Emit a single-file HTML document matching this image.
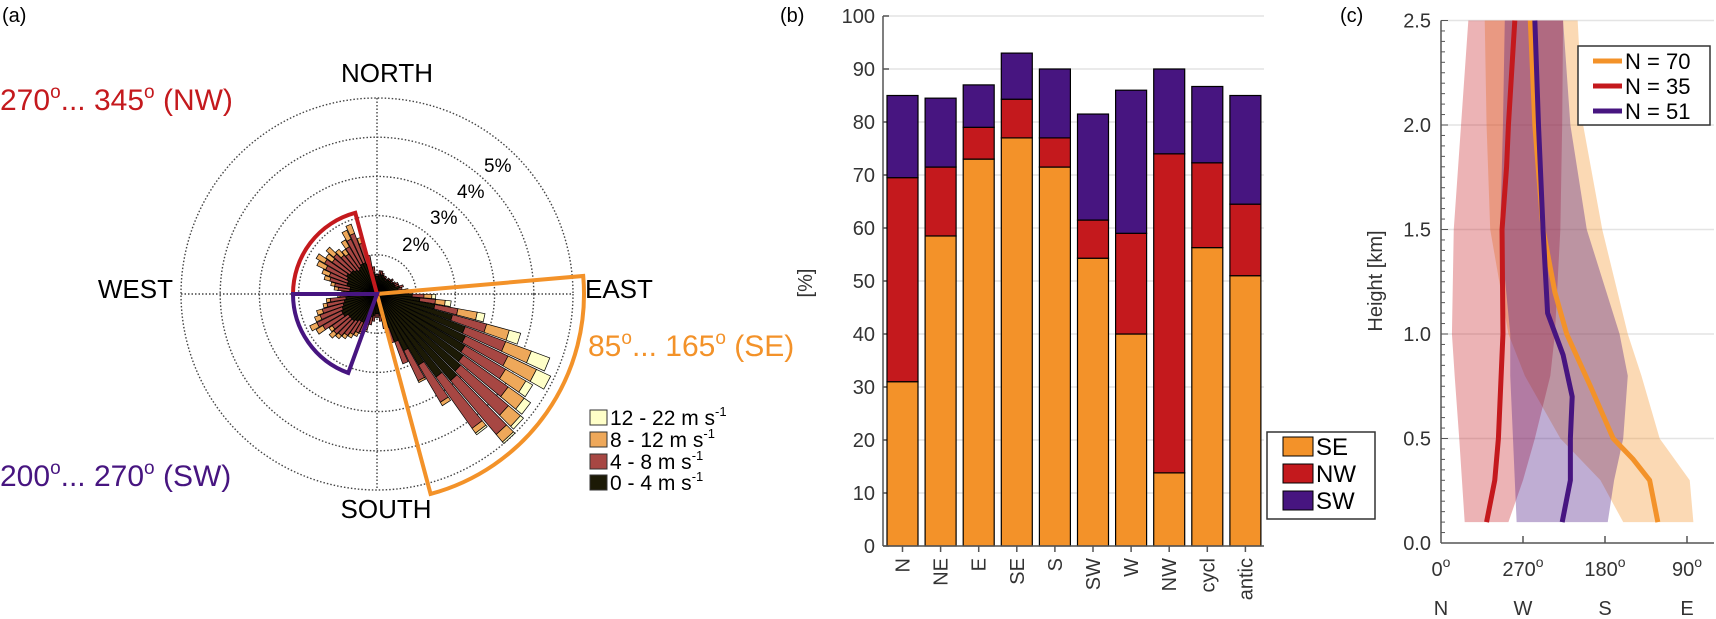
<!DOCTYPE html>
<html><head><meta charset="utf-8">
<style>
html,body{margin:0;padding:0;background:#fff;}
svg{display:block;font-family:"Liberation Sans",sans-serif;}
</style></head>
<body>
<svg id="fig" width="1716" height="619" viewBox="0 0 1716 619" xmlns="http://www.w3.org/2000/svg">
<g id="pa"></g>
<g id="pb"></g>
<g id="pc"></g>
</svg>
<script>
// ---------- Panel (a) data: 5-degree bins, percent per speed class ----------
const roseBins = [0,5,10,15,20,25,30,35,40,45,50,55,60,65,70,75,80,85,90,95,100,105,110,115,120,125,130,135,140,145,150,155,160,165,170,175,180,185,190,195,200,205,210,215,220,225,230,235,240,245,250,255,260,265,270,275,280,285,290,295,300,305,310,315,320,325,330,335,340,345,350,355];
const speed0to4 = [.45,.5,.5,.5,.45,.45,.4,.45,.45,.5,.45,.5,.5,.5,.6,.55,.6,.6,.9,1.1,1.5,2.0,2.4,2.5,2.6,2.7,2.8,2.9,2.6,2.1,1.6,1.3,.9,.65,.55,.5,.5,.55,.6,.7,.75,.8,.8,.85,.9,.9,.9,1.0,1.0,.95,.9,.85,.8,.7,.6,.7,.7,.8,.8,.85,.9,.85,.85,.8,.75,.8,.85,.85,.8,.7,.55,.45];
const speed4to8 = [.05,.1,.1,.05,.05,.05,.05,.05,.05,.05,.05,.05,.1,.1,.1,.1,.15,.2,.3,.4,.6,.9,1.1,1.2,1.2,1.4,1.6,1.8,1.6,1.1,.85,.6,.4,.25,.15,.1,.1,.15,.2,.25,.3,.3,.4,.45,.5,.55,.5,.6,.7,.6,.55,.45,.4,.25,.25,.3,.4,.45,.5,.6,.65,.55,.6,.5,.5,.6,.7,.8,.55,.3,.15,.05];
const speed8to12 = [0,0,0,0,0,0,0,0,0,0,0,0,0,0,0,0,.05,.1,.2,.25,.5,.6,.7,.8,.6,.5,.4,.25,.15,.1,.05,0,0,0,0,0,0,0,0,.05,.05,.1,.1,.1,.1,.15,.1,.2,.2,.15,.15,.1,.1,.05,.05,.1,.1,.15,.2,.25,.25,.2,.25,.2,.15,.2,.25,.25,.15,0,0,0];
const speed12to22 = [0,0,0,0,0,0,0,0,0,0,0,0,0,0,0,0,0,0,.1,.15,.2,.3,.5,.4,.2,.2,.1,.05,.05,0,0,0,0,0,0,0,0,0,0,0,0,0,0,0,0,0,0,0,0,0,0,0,0,0,0,0,0,0,0,0,0,0,0,0,0,0,0,0,0,0,0,0];
const ringPercents = [1,2,3,4,5];
const speedLabels = ["12 - 22 m s","8 - 12 m s","4 - 8 m s","0 - 4 m s"];

// ---------- Panel (b) data ----------
const bCategories = ["N","NE","E","SE","S","SW","W","NW","cycl","antic"];
const bSE = [31,58.5,73,77,71.5,54.3,40,13.8,56.3,51];
const bNW = [38.5,13,6,7.3,5.5,7.2,19,60.2,16,13.5];
const bSW = [15.5,13,8,8.7,13,20,27,16,14.4,20.5];
const bTicks = [0,10,20,30,40,50,60,70,80,90,100];

// ---------- Panel (c) data ----------
const hOrange = [0.1,0.3,0.4,0.5,0.75,1.0,1.2,1.5,2.0,2.5];
const dOrange = [122,131,149,171,196,222,235,248,257,262];
const hRed = [0.1,0.3,0.5,1.0,1.5,1.8,2.0,2.5];
const dRed = [310,301,297,292,293,288,286,279];
const hPurple = [0.1,0.3,0.5,0.7,0.9,1.1,1.5,2.0,2.5];
const dPurple = [227,218,218,216,226,243,248,253,257];
const bandH = [0.1,0.3,0.5,0.8,1.0,1.5,2.0,2.5];
const redLo = [334,337,340,345,348,346,338,330];
const redHi = [286,270,257,240,235,229,227,226];
const purLo = [277,279,281,284,284,295,292,290];
const purHi = [177,170,160,155,164,200,218,226];
const oraLo = [160,185,229,268,286,306,310,312];
const oraHi = [83,87,120,140,155,183,204,210];
const cYTicks = [0,0.5,1.0,1.5,2.0,2.5];
const cXTicks = [360,270,180,90];
const cXTickLabels = ["0","270","180","90"];
const cDirLabels = ["N","W","S","E"];

const NS="http://www.w3.org/2000/svg";
function mk(parent,tag,attrs,text){const e=document.createElementNS(NS,tag);for(const k in attrs)e.setAttribute(k,attrs[k]);if(text!==undefined)e.textContent=text;parent.appendChild(e);return e;}

// ===== Panel A =====
const pa=document.getElementById('pa');
const CX=377, CY=294, RS=39.2;
function rr(p){return p*RS;}
function pt(b,r){const a=b*Math.PI/180;return [CX+r*Math.sin(a),CY-r*Math.cos(a)];}
let t=mk(pa,'text',{x:2,y:22,'font-size':20},'(a)');

// rings
ringPercents.forEach(p=>{const c=mk(pa,'circle',{cx:CX,cy:CY,r:rr(p),fill:'none',stroke:'#444','stroke-width':1.4,'stroke-dasharray':'1.5 2'});
});
const R5=rr(5);
let l=mk(pa,'line',{x1:CX-R5,y1:CY,x2:CX+R5,y2:CY,stroke:'#444','stroke-width':1.4,'stroke-dasharray':'1.5 2'});

l=mk(pa,'line',{x1:CX,y1:CY-R5,x2:CX,y2:CY+R5,stroke:'#444','stroke-width':1.4,'stroke-dasharray':'1.5 2'});

// bars
const classes=[speed0to4,speed4to8,speed8to12,speed12to22];
const classColors=['#1c1a06','#a74743','#eea85a','#ffffc8'];
roseBins.forEach((b,i)=>{let r0=0;
 for(let k=0;k<4;k++){const v=classes[k][i];if(v<=0)continue;const r1=r0+v;
  const a0=b+0.3,a1=b+4.7;const p1=pt(a0,rr(r0)),p2=pt(a0,rr(r1)),p3=pt(a1,rr(r1)),p4=pt(a1,rr(r0));
  const pg=mk(pa,'polygon',{points:[p1,p2,p3,p4].map(q=>q[0].toFixed(1)+','+q[1].toFixed(1)).join(' '),fill:classColors[k],stroke:'#000','stroke-width':0.7});
  
  r0=r1;}
});
// sectors
function sector(a0,a1,r,col,name){const p0=pt(a0,r),p1=pt(a1,r);
 const d=`M${CX},${CY} L${p0[0]},${p0[1]} A${r},${r} 0 0 1 ${p1[0]},${p1[1]} Z`;
 const s=mk(pa,'path',{d:d,fill:'none',stroke:col,'stroke-width':4,'stroke-linejoin':'miter'});
 }
sector(85,165,207,'#f39229','se-sector');
sector(270,345,84,'#c4191d','nw-sector');
sector(200,270,84,'#471580','sw-sector');
// percent labels
[[2,420,251],[3,448,224],[4,475,198],[5,502,172]].forEach(a=>{const tt=mk(pa,'text',{x:a[1]-18,y:a[2],'font-size':19},a[0]+'%');
 });
// compass
[['NORTH',387,82,'middle'],['SOUTH',386,518,'middle'],['WEST',173,298,'end'],['EAST',585,298,'start']].forEach(a=>{
 const tt=mk(pa,'text',{x:a[1],y:a[2],'font-size':26,'text-anchor':a[3]},a[0]);
 });
</script>
<script>
// sector labels (static text with superscripts)
(function(){const pa=document.getElementById('pa');
function lab(x,y,col,parts,name){const t=document.createElementNS(NS,'text');t.setAttribute('x',x);t.setAttribute('y',y);t.setAttribute('font-size',30);t.setAttribute('fill',col);
 
 parts.forEach(p=>{const s=document.createElementNS(NS,'tspan');s.textContent=p[0];if(p[1]){s.setAttribute('font-size',19);s.setAttribute('dy',-12);}else if(p[2]){s.setAttribute('dy',12);}t.appendChild(s);});pa.appendChild(t);}
lab(0,110,'#c4191d',[['270'],['o',1],['... 345',0,1],['o',1],[' (NW)',0,1]],'nw-sector-label');
lab(0,486,'#471580',[['200'],['o',1],['... 270',0,1],['o',1],[' (SW)',0,1]],'sw-sector-label');
lab(588,356,'#f39229',[['85'],['o',1],['... 165',0,1],['o',1],[' (SE)',0,1]],'se-sector-label');
// legend
const cols=['#ffffc8','#eea85a','#a74743','#1c1a06'];
[418,440,462,483].forEach((y,i)=>{const r=document.createElementNS(NS,'rect');r.setAttribute('x',590);r.setAttribute('y',y-8);r.setAttribute('width',17);r.setAttribute('height',15);r.setAttribute('fill',cols[i]);r.setAttribute('stroke','#333');r.setAttribute('stroke-width',1);
 pa.appendChild(r);
 const t=document.createElementNS(NS,'text');t.setAttribute('x',610);t.setAttribute('y',y+7);t.setAttribute('font-size',21);
 
 const s1=document.createElementNS(NS,'tspan');s1.textContent=speedLabels[i];t.appendChild(s1);
 const s2=document.createElementNS(NS,'tspan');s2.textContent='-1';s2.setAttribute('font-size',13);s2.setAttribute('dy',-9);t.appendChild(s2);pa.appendChild(t);});
})();

// ===== Panel B =====
(function(){const pb=document.getElementById('pb');
const X0=883,X1=1264,Y0=546,PY=5.3,BW=31,STEP=38.1,C0=902.5;
const y=v=>Y0-v*PY;
let t=mk(pb,'text',{x:780,y:22,'font-size':20},'(b)');
bTicks.forEach(v=>{const g=mk(pb,'line',{x1:X0,y1:y(v),x2:X1,y2:y(v),stroke:'#e4e4e4','stroke-width':1.5});
 const tk=mk(pb,'line',{x1:X0,y1:y(v),x2:X0+6,y2:y(v),stroke:'#555','stroke-width':1.5});
 const tl=mk(pb,'text',{x:X0-8,y:y(v)+7,'font-size':20,'text-anchor':'end',fill:'#333'},String(v));});
const segs=[[bSE,'#f39229','se'],[bNW,'#c4191d','nw'],[bSW,'#471580','sw']];
bCategories.forEach((c,i)=>{const cx=C0+i*STEP;let base=0;
 segs.forEach(s=>{const v=s[0][i];const r=mk(pb,'rect',{x:cx-BW/2,y:y(base+v),width:BW,height:v*PY,fill:s[1],stroke:'#000','stroke-width':1.2});
  base+=v;});
 const tk=mk(pb,'line',{x1:cx,y1:Y0,x2:cx,y2:Y0+6,stroke:'#555','stroke-width':1.5});
 const tl=mk(pb,'text',{x:0,y:0,'font-size':20,'text-anchor':'end',fill:'#333',transform:`translate(${cx+7},${Y0+12}) rotate(-90)`},c);
 });
let ax=mk(pb,'line',{x1:X0,y1:y(100),x2:X0,y2:Y0,stroke:'#555','stroke-width':1.5});
ax=mk(pb,'line',{x1:X0,y1:Y0,x2:X1,y2:Y0,stroke:'#555','stroke-width':1.5});
t=mk(pb,'text',{x:0,y:0,'font-size':20,'text-anchor':'middle',fill:'#333',transform:'translate(812,283) rotate(-90)'},'[%]');
const lg=mk(pb,'rect',{x:1267,y:432,width:108,height:87,fill:'#fff',stroke:'#333','stroke-width':1.5});
[['SE','#f39229'],['NW','#c4191d'],['SW','#471580']].forEach((e,i)=>{const yy=446+i*27;
 const r=mk(pb,'rect',{x:1283,y:yy-9,width:30,height:19,fill:e[1],stroke:'#000','stroke-width':1});
 const tt=mk(pb,'text',{x:1316,y:yy+9,'font-size':24},e[0]);});
})();

// ===== Panel C =====
(function(){const pc=document.getElementById('pc');
const XL=1441,XR=1714,YB=543,PH=209;
const X=d=>XL+(360-d)*246/270;const Y=h=>YB-h*PH;
let t=mk(pc,'text',{x:1340,y:22,'font-size':20},'(c)');
cYTicks.forEach(v=>{if(v>0){const g=mk(pc,'line',{x1:XL,y1:Y(v),x2:XR,y2:Y(v),stroke:'#e4e4e4','stroke-width':1.5});}
 const tl=mk(pc,'text',{x:XL-10,y:Y(v)+7,'font-size':20,'text-anchor':'end',fill:'#333'},v.toFixed(1));});
for(let k=0;k<=50;k++){const h=k*0.05;const len=(k%10==0)?7:4;const m=mk(pc,'line',{x1:XL,y1:Y(h),x2:XL+len,y2:Y(h),stroke:'#555','stroke-width':1});}
function band(lo,hi,col,name){const pts=bandH.map((h,i)=>X(lo[i])+','+Y(h)).concat(bandH.map((h,i)=>X(hi[i])+','+Y(h)).reverse());
 const p=mk(pc,'polygon',{points:pts.join(' '),fill:col});}
band(oraLo,oraHi,'rgba(243,146,41,0.35)','se-spread-band');
band(redLo,redHi,'rgba(196,25,29,0.33)','nw-spread-band');
band(purLo,purHi,'rgba(71,21,128,0.35)','sw-spread-band');
function line(hs,ds,col,name){const p=mk(pc,'polyline',{points:hs.map((h,i)=>X(ds[i])+','+Y(h)).join(' '),fill:'none',stroke:col,'stroke-width':5,'stroke-linejoin':'round'});
 }
line(hOrange,dOrange,'#f39229','se-mean-line');
line(hRed,dRed,'#c4191d','nw-mean-line');
line(hPurple,dPurple,'#471580','sw-mean-line');
let ax=mk(pc,'line',{x1:XL,y1:Y(2.5),x2:XL,y2:YB,stroke:'#555','stroke-width':1.5});
ax=mk(pc,'line',{x1:XL,y1:YB,x2:XR,y2:YB,stroke:'#555','stroke-width':1.5});
cXTicks.forEach((d,i)=>{const x=X(d);if(i>0){const tk=mk(pc,'line',{x1:x,y1:YB,x2:x,y2:YB-7,stroke:'#555','stroke-width':1.5});}
 const tl=mk(pc,'text',{x:x,y:YB+33,'font-size':20,'text-anchor':'middle',fill:'#333'});
 const s1=document.createElementNS(NS,'tspan');s1.textContent=cXTickLabels[i];tl.appendChild(s1);const s2=document.createElementNS(NS,'tspan');s2.textContent='o';s2.setAttribute('font-size',14);s2.setAttribute('dy',-9);tl.appendChild(s2);
 const dl=mk(pc,'text',{x:x,y:YB+72,'font-size':20,'text-anchor':'middle',fill:'#333'},cDirLabels[i]);});
t=mk(pc,'text',{x:0,y:0,'font-size':20,'text-anchor':'middle',fill:'#333',transform:'translate(1382,281) rotate(-90)'},'Height [km]');
const lg=mk(pc,'rect',{x:1578,y:46,width:132,height:79,fill:'#fff',stroke:'#333','stroke-width':1.5});
[['N = 70','#f39229'],['N = 35','#c4191d'],['N = 51','#471580']].forEach((e,i)=>{const yy=61+i*25;
 const ln=mk(pc,'line',{x1:1593,y1:yy,x2:1622,y2:yy,stroke:e[1],'stroke-width':5});
 const tt=mk(pc,'text',{x:1625,y:yy+8,'font-size':22},e[0]);});
})();
</script>
</body></html>
